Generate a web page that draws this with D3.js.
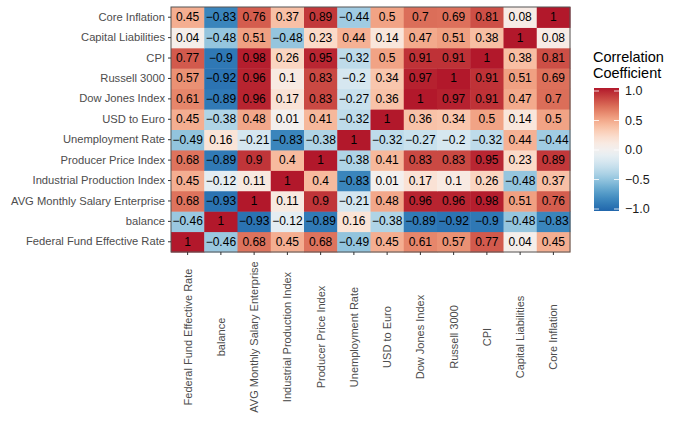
<!DOCTYPE html>
<html>
<head>
<meta charset="utf-8">
<script src="https://cdn.jsdelivr.net/npm/d3@7"></script>
<style>
body { margin: 0; background: #fff; }
text { font-family: "Liberation Sans", Arial, sans-serif; }
</style>
</head>
<body>
<svg id="chart" width="685" height="423"></svg>
<script>
// Variables in column order (left to right); rows are drawn in reverse (bottom to top)
const variables = [
  "Federal Fund Effective Rate", "balance", "AVG Monthly Salary Enterprise",
  "Industrial Production Index", "Producer Price Index", "Unemployment Rate",
  "USD to Euro", "Dow Jones Index", "Russell 3000", "CPI",
  "Capital Liabilities", "Core Inflation"
];
// Correlation matrix rows, same order as variables
const rowFFER    = [1, -0.46, 0.68, 0.45, 0.68, -0.49, 0.45, 0.61, 0.57, 0.77, 0.04, 0.45];
const rowBalance = [-0.46, 1, -0.93, -0.12, -0.89, 0.16, -0.38, -0.89, -0.92, -0.9, -0.48, -0.83];
const rowAVG     = [0.68, -0.93, 1, 0.11, 0.9, -0.21, 0.48, 0.96, 0.96, 0.98, 0.51, 0.76];
const rowIPI     = [0.45, -0.12, 0.11, 1, 0.4, -0.83, 0.01, 0.17, 0.1, 0.26, -0.48, 0.37];
const rowPPI     = [0.68, -0.89, 0.9, 0.4, 1, -0.38, 0.41, 0.83, 0.83, 0.95, 0.23, 0.89];
const rowUnemp   = [-0.49, 0.16, -0.21, -0.83, -0.38, 1, -0.32, -0.27, -0.2, -0.32, 0.44, -0.44];
const rowUSD     = [0.45, -0.38, 0.48, 0.01, 0.41, -0.32, 1, 0.36, 0.34, 0.5, 0.14, 0.5];
const rowDow     = [0.61, -0.89, 0.96, 0.17, 0.83, -0.27, 0.36, 1, 0.97, 0.91, 0.47, 0.7];
const rowRussell = [0.57, -0.92, 0.96, 0.1, 0.83, -0.2, 0.34, 0.97, 1, 0.91, 0.51, 0.69];
const rowCPI     = [0.77, -0.9, 0.98, 0.26, 0.95, -0.32, 0.5, 0.91, 0.91, 1, 0.38, 0.81];
const rowCapLiab = [0.04, -0.48, 0.51, -0.48, 0.23, 0.44, 0.14, 0.47, 0.51, 0.38, 1, 0.08];
const rowCore    = [0.45, -0.83, 0.76, 0.37, 0.89, -0.44, 0.5, 0.7, 0.69, 0.81, 0.08, 1];
const matrix = [rowFFER, rowBalance, rowAVG, rowIPI, rowPPI, rowUnemp, rowUSD, rowDow, rowRussell, rowCPI, rowCapLiab, rowCore];
const legendTicks = [1.0, 0.5, 0.0, -0.5, -1.0];
const legendTitle = ["Correlation", "Coefficient"];

const cells = [];
matrix.forEach((row, i) => row.forEach((v, j) => cells.push({row: variables[i], col: variables[j], value: v})));

const svg = d3.select("#chart");
const panel = {left: 171, top: 7, right: 570, bottom: 252};

const x = d3.scaleBand().domain(variables).range([panel.left, panel.right]);
const y = d3.scaleBand().domain(variables).range([panel.bottom, panel.top]);

const palette = ["#2166ac", "#4393c3", "#92c5de", "#d1e5f0", "#f7f7f7", "#fddbc7", "#f4a582", "#d6604d", "#b2182b"];
const interp = d3.interpolateRgbBasis(palette);
const color = v => interp((v + 1) / 2);

// cells
svg.append("g").selectAll("rect").data(cells).join("rect")
  .attr("x", d => x(d.col))
  .attr("y", d => y(d.row))
  .attr("width", x.bandwidth() + 0.5)
  .attr("height", y.bandwidth() + 0.5)
  .attr("fill", d => color(d.value));

svg.append("g").selectAll("text").data(cells).join("text")
  .attr("x", d => x(d.col) + x.bandwidth() / 2)
  .attr("y", d => y(d.row) + y.bandwidth() / 2)
  .attr("text-anchor", "middle")
  .attr("dominant-baseline", "central")
  .attr("font-size", 12)
  .attr("fill", "#000")
  .text(d => d3.format("")(d.value));

// panel border
svg.append("rect")
  .attr("x", panel.left).attr("y", panel.top)
  .attr("width", panel.right - panel.left).attr("height", panel.bottom - panel.top)
  .attr("fill", "none").attr("stroke", "#555").attr("stroke-width", 1);

// axes
const xAxis = svg.append("g")
  .attr("transform", `translate(0,${panel.bottom})`)
  .call(d3.axisBottom(x).tickSize(3).tickPadding(0));
xAxis.select(".domain").remove();
xAxis.selectAll(".tick line").attr("stroke", "#333").attr("stroke-width", 1);
xAxis.selectAll(".tick text")
  .attr("font-size", 11)
  .attr("fill", "#4d4d4d")
  .attr("text-anchor", "middle")
  .attr("dy", null)
  .attr("dominant-baseline", "central")
  .attr("transform", "translate(0,85) rotate(-90)")
  .attr("y", 0);

const yAxis = svg.append("g")
  .attr("transform", `translate(${panel.left},0)`)
  .call(d3.axisLeft(y).tickSize(3).tickPadding(3));
yAxis.select(".domain").remove();
yAxis.selectAll(".tick line").attr("stroke", "#333").attr("stroke-width", 1);
yAxis.selectAll(".tick text").attr("font-size", 11.2).attr("fill", "#4d4d4d");

// legend
const lg = svg.append("g");
lg.selectAll("text.title").data(legendTitle).join("text")
  .attr("class", "title")
  .attr("x", 593)
  .attr("y", (d, i) => 62 + i * 16)
  .attr("font-size", 14.5)
  .attr("fill", "#000")
  .text(d => d);

const barTop = 88, barBottom = 211, barLeft = 594, barW = 25;
const ly = d3.scaleLinear().domain([-1, 1]).range([barBottom - 2, barTop + 3]);
const defs = svg.append("defs");
const grad = defs.append("linearGradient").attr("id", "lgrad")
  .attr("x1", 0).attr("y1", 1).attr("x2", 0).attr("y2", 0);
d3.range(0, 1.0001, 0.05).forEach(t => {
  grad.append("stop").attr("offset", t).attr("stop-color", color(t * 2 - 1));
});
lg.append("rect")
  .attr("x", barLeft).attr("y", barTop)
  .attr("width", barW).attr("height", barBottom - barTop)
  .attr("fill", "url(#lgrad)");
lg.selectAll("line.tk").data(legendTicks).join("g").each(function(d) {
  const g = d3.select(this);
  g.append("line").attr("x1", barLeft).attr("x2", barLeft + 5)
    .attr("y1", ly(d)).attr("y2", ly(d)).attr("stroke", "#fff").attr("stroke-width", 0.8);
  g.append("line").attr("x1", barLeft + barW - 5).attr("x2", barLeft + barW)
    .attr("y1", ly(d)).attr("y2", ly(d)).attr("stroke", "#fff").attr("stroke-width", 0.8);
});
lg.selectAll("text.lbl").data(legendTicks).join("text")
  .attr("class", "lbl")
  .attr("x", 625)
  .attr("y", d => ly(d))
  .attr("dominant-baseline", "central")
  .attr("font-size", 12.5)
  .attr("fill", "#1a1a1a")
  .text(d => d3.format(".1f")(d));
</script>
</body>
</html>
